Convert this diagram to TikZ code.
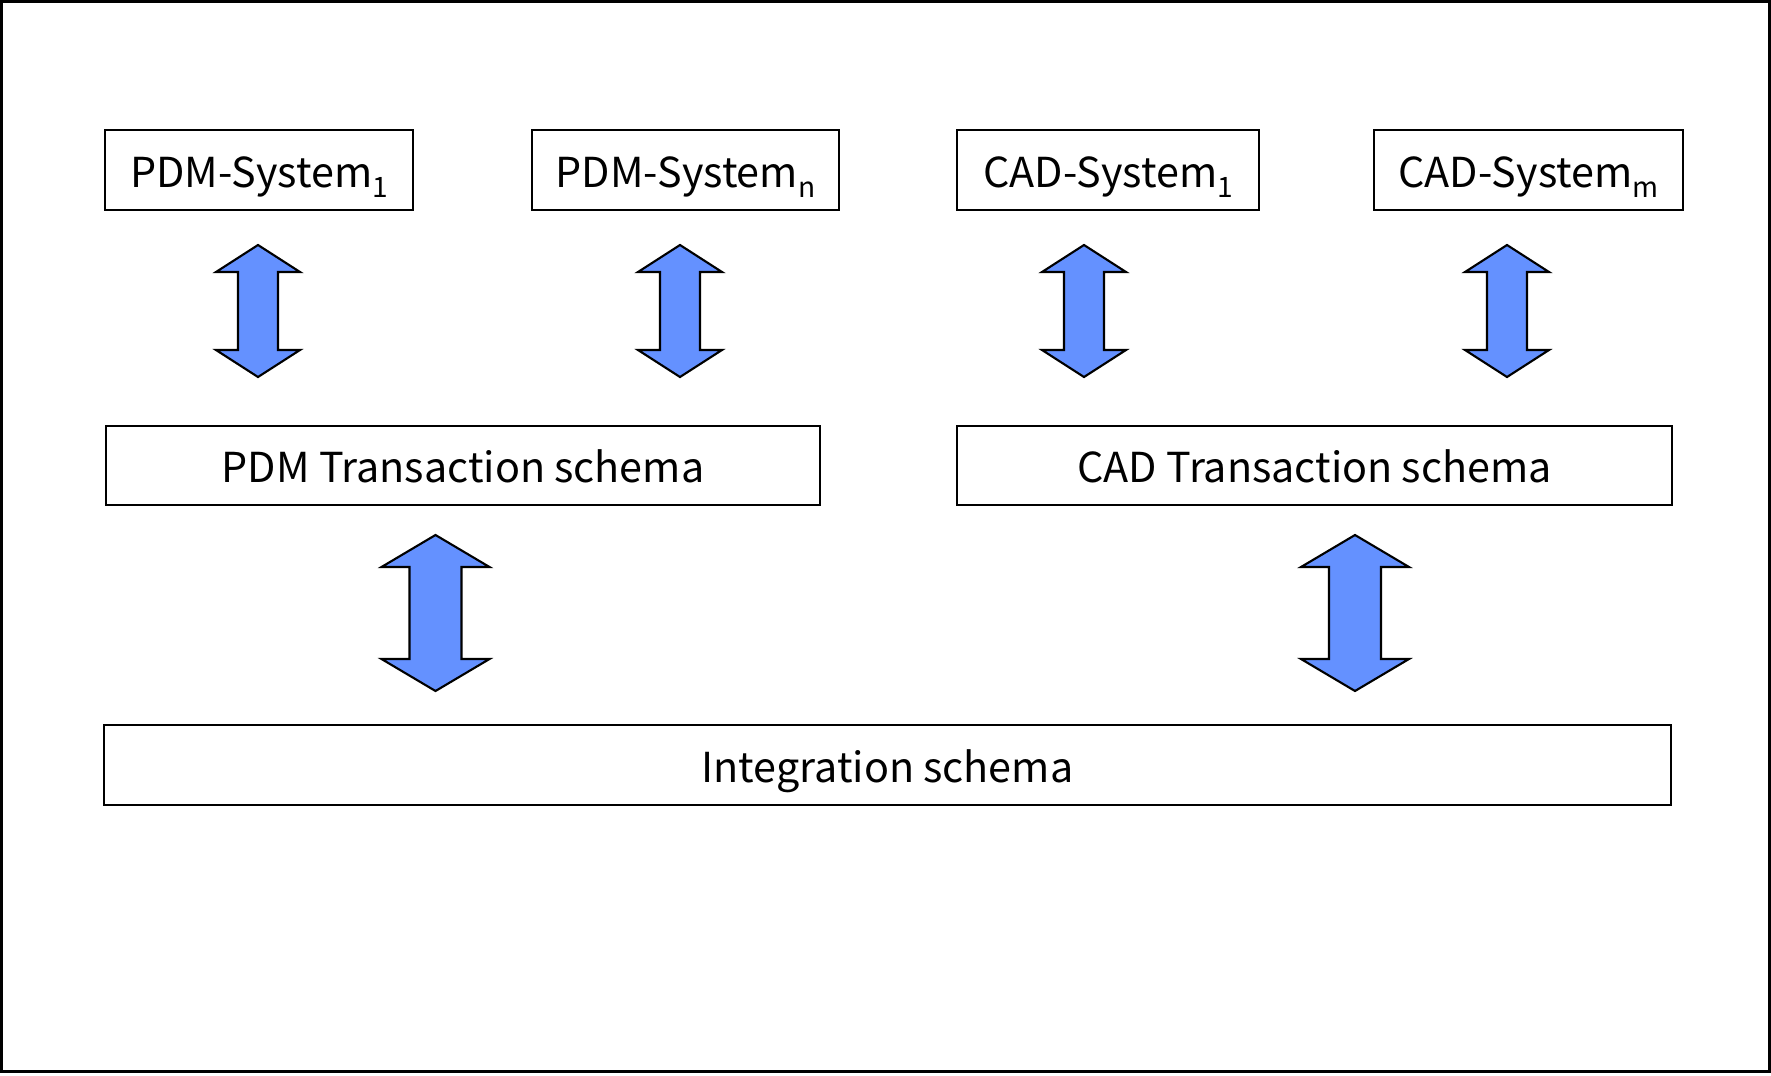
\documentclass[tikz,border=0pt]{standalone}
\usepackage{fontspec}
\setmainfont{Noto Sans CJK JP}
\definecolor{arrowblue}{RGB}{100,145,255}
% lowered index in the text font, kept out of the line's depth
\newcommand{\lowidx}[1]{\smash{\raisebox{-0.45ex}{\fontsize{16pt}{16pt}\selectfont #1}}}
\begin{document}
\begin{tikzpicture}[x=0.02cm,y=-0.02cm,
  sysbox/.style={draw,line width=1.2pt,rectangle,inner sep=0pt,
    minimum height=1.6cm,text height=19.5pt,text depth=0pt,
    font=\fontsize{23.5pt}{28pt}\selectfont},
  arrowfill/.style={fill=arrowblue,draw=black,line width=1.2pt,line join=miter},
  pics/twoway/.style n args={4}{code={%
    \filldraw[arrowfill] (0,-#1) -- (#3,-#1+#2) -- (#4,-#1+#2) -- (#4,#1-#2)
      -- (#3,#1-#2) -- (0,#1) -- (-#3,#1-#2) -- (-#4,#1-#2) -- (-#4,-#1+#2)
      -- (-#3,-#1+#2) -- cycle;}},
  pics/small/.style={twoway={66}{27}{42}{20}},
  pics/big/.style={twoway={78}{32}{54}{26}}]
\useasboundingbox (0,0) rectangle (1771,1075);
% outer frame
\draw[line width=1.2pt] (1.5,1.5) rectangle (1769.5,1071.5);

% source systems
\node[sysbox,minimum width=6.16cm] (pdm1) at (259,170) {PDM-System\lowidx{1}};
\node[sysbox,minimum width=6.14cm] (pdmn) at (685.5,170) {PDM-System\lowidx{n}};
\node[sysbox,minimum width=6.04cm] (cad1) at (1108,170) {CAD-System\lowidx{1}};
\node[sysbox,minimum width=6.18cm] (cadm) at (1528.5,170) {CAD-System\lowidx{m}};

% transaction schemas
\node[sysbox,minimum width=14.28cm,minimum height=1.58cm] (pdmt) at (463,465.5) {PDM Transaction schema};
\node[sysbox,minimum width=14.30cm,minimum height=1.58cm] (cadt) at (1314.5,465.5) {CAD Transaction schema};

% integration schema
\node[sysbox,minimum width=31.34cm] (integ) at (887.5,765) {Integration schema};

% two-way exchange arrows
\pic (a1) at (258,311) {small};
\pic (a2) at (680,311) {small};
\pic (a3) at (1084,311) {small};
\pic (a4) at (1507,311) {small};
\pic (b1) at (435.5,613) {big};
\pic (b2) at (1355,613) {big};
\end{tikzpicture}
\end{document}
